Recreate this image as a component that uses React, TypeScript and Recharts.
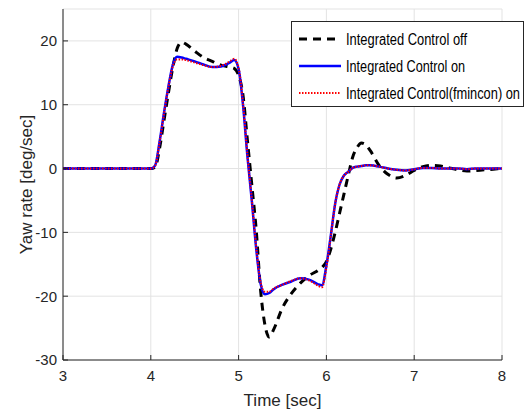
import React from 'react';
import { LineChart, Line, XAxis, YAxis, CartesianGrid } from 'recharts';

const time = [3, 3.5, 4.0, 4.05, 4.1, 4.15, 4.2, 4.25, 4.3, 4.35, 4.4, 4.5, 4.6, 4.7, 4.8, 4.9, 4.95, 5.0, 5.05, 5.1, 5.15, 5.2, 5.25, 5.3, 5.35, 5.4, 5.5, 5.6, 5.7, 5.8, 5.9, 5.95, 6.0, 6.05, 6.1, 6.15, 6.2, 6.25, 6.3, 6.35, 6.4, 6.45, 6.5, 6.6, 6.7, 6.8, 6.9, 7.0, 7.1, 7.2, 7.3, 7.4, 7.5, 7.6, 7.7, 7.8, 7.9, 8.0];

const controlOff = [0, 0, 0, 0.2, 3.2, 7.5, 11.8, 15.8, 18.8, 19.8, 19.5, 18.4, 17.4, 16.8, 16.2, 15.9, 15.7, 14.6, 11.5, 4.5, -2.5, -9.5, -19, -24.5, -26.4, -25.2, -21.8, -19.6, -18, -16.8, -16, -15.5, -14.6, -12.6, -10, -7, -4, -1, 1.8, 3.3, 4.0, 3.7, 2.8, 0.5, -0.9, -1.5, -1.1, -0.3, 0.3, 0.5, 0.4, 0.1, -0.2, -0.4, -0.3, -0.2, -0.1, 0];

const controlOn = [0, 0, 0, 0.5, 4.2, 8.7, 12.8, 16.2, 17.5, 17.4, 17.2, 16.8, 16.3, 15.9, 16.0, 16.6, 17.0, 15.6, 10.0, 2.0, -5.0, -12.5, -18.0, -19.7, -19.5, -18.9, -18.2, -17.7, -17.2, -17.4, -18.1, -18.3, -15.2, -10.5, -5.5, -2.5, -1.1, -0.5, 0.1, 0.3, 0.4, 0.5, 0.5, 0.3, 0.0, -0.2, -0.3, -0.1, 0.1, 0.1, 0.0, 0, 0, -0.1, 0, 0, 0, 0];

const controlFmincon = [0, 0, 0, 0.5, 4.1, 8.6, 12.7, 16.0, 17.1, 17.1, 17.0, 16.6, 16.2, 15.9, 16.1, 16.8, 17.2, 15.8, 10.2, 2.2, -4.8, -12.3, -17.8, -19.3, -19.3, -18.8, -18.2, -17.6, -17.2, -17.5, -18.3, -18.6, -15.5, -10.6, -5.5, -2.5, -1.1, -0.5, 0.1, 0.3, 0.4, 0.5, 0.5, 0.3, 0.0, -0.2, -0.3, -0.1, 0.1, 0.1, 0.0, 0, 0, -0.1, 0, 0, 0, 0];

const xTicks = [3, 4, 5, 6, 7, 8];
const yTicks = [-30, -20, -10, 0, 10, 20];

const seriesNames = ['Integrated Control off', 'Integrated Control on', 'Integrated Control(fmincon) on'];

const data = time.map((t, i) => ({
  t,
  off: controlOff[i],
  on: controlOn[i],
  fmincon: controlFmincon[i],
}));

const axisColor = '#262626';
const tickStyle = { fontFamily: '"Liberation Sans", Arial, sans-serif', fontSize: 15, fill: axisColor };

const LegendBox = () => {
  const rows = [
    { name: seriesNames[0], color: '#000000', dash: '8 6', w: 3, len: 121 },
    { name: seriesNames[1], color: '#0000ff', dash: undefined, w: 2.5, len: 119 },
    { name: seriesNames[2], color: '#ff0000', dash: '1.5 1.5', w: 2, len: 174 },
  ];
  return (
    <svg width={233} height={86} style={{ display: 'block', position: 'absolute', left: 291, top: 21 }}>
      <rect x={0.5} y={0.5} width={232} height={85} fill="#fff" stroke="#262626" strokeWidth={1} />
      {rows.map((r, i) => {
        const cy = 18 + i * 27;
        return (
          <g key={r.name}>
            <line x1={8} y1={cy} x2={50} y2={cy} stroke={r.color} strokeWidth={r.w} strokeDasharray={r.dash} />
            <text
              x={55}
              y={cy + 5.5}
              fontFamily='"Liberation Sans", Arial, sans-serif'
              fontSize={16}
              fill="#000"
              textLength={r.len}
              lengthAdjust="spacingAndGlyphs"
            >
              {r.name}
            </text>
          </g>
        );
      })}
    </svg>
  );
};

export default function App() {
  return (
    <div style={{ position: 'relative', width: 529, height: 414, background: '#fff' }}>
      <style>{'html, body { margin: 0; padding: 0; overflow: hidden; }'}</style>
      <LineChart
        width={529}
        height={414}
        data={data}
        margin={{ top: 9, right: 27, left: 0, bottom: 0 }}
      >
        <CartesianGrid stroke="#e3e3e3" strokeWidth={1} />
        <XAxis
          dataKey="t"
          type="number"
          domain={[3, 8]}
          ticks={xTicks}
          height={54}
          stroke={axisColor}
          tick={tickStyle}
          tickSize={-5}
          tickMargin={15}
          tickLine={{ stroke: axisColor }}
          label={{ value: 'Time [sec]', position: 'insideBottom', offset: 8, style: { fontFamily: '"Liberation Sans", Arial, sans-serif', fontSize: 17, fill: axisColor } }}
        />
        <XAxis xAxisId="top" orientation="top" type="number" domain={[3, 8]} ticks={xTicks} height={0} stroke={axisColor} tick={false} tickLine={false} />
        <YAxis
          type="number"
          domain={[-30, 25]}
          ticks={yTicks}
          width={63}
          stroke={axisColor}
          tick={tickStyle}
          tickSize={-5}
          tickMargin={11}
          tickLine={{ stroke: axisColor }}
          allowDataOverflow
          label={{ value: 'Yaw rate [deg/sec]', angle: -90, position: 'insideLeft', offset: 26, style: { textAnchor: 'middle', fontFamily: '"Liberation Sans", Arial, sans-serif', fontSize: 17, fill: axisColor } }}
        />
        <YAxis yAxisId="right" orientation="right" type="number" domain={[-30, 25]} width={0} stroke={axisColor} tick={false} tickLine={false} />
        <Line name={seriesNames[0]} dataKey="off" type="monotone" stroke="#000000" strokeWidth={3} strokeDasharray="8 6" dot={false} isAnimationActive={false} />
        <Line name={seriesNames[1]} dataKey="on" type="monotone" stroke="#0000ff" strokeWidth={2.5} dot={false} isAnimationActive={false} />
        <Line name={seriesNames[2]} dataKey="fmincon" type="monotone" stroke="#ff0000" strokeWidth={2} strokeDasharray="1.5 1.5" dot={false} isAnimationActive={false} />
      </LineChart>
      <LegendBox />
    </div>
  );
}
